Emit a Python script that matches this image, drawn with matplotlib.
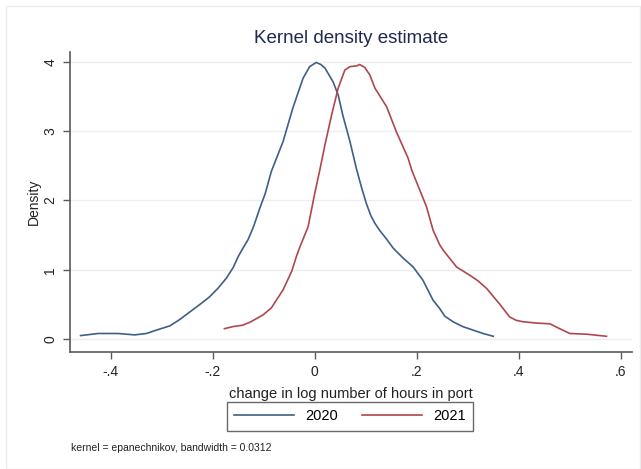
import matplotlib
matplotlib.use("Agg")
import matplotlib.pyplot as plt
from matplotlib.patches import Rectangle

# ---------------------------------------------------------------------------
# Data (x = change in log hours, y = density)
# ---------------------------------------------------------------------------

x_2020 = [-0.459, -0.425, -0.385, -0.353, -0.330, -0.310, -0.284, -0.265,
          -0.245, -0.225, -0.206, -0.190, -0.173, -0.160, -0.150, -0.140,
          -0.131, -0.120, -0.108, -0.097, -0.085, -0.062, -0.043, -0.023,
          -0.010, 0.003, 0.012, 0.020, 0.036, 0.046, 0.055, 0.069, 0.082,
          0.092, 0.101, 0.110, 0.118, 0.127, 0.141, 0.154, 0.173, 0.193,
          0.212, 0.232, 0.245, 0.255, 0.271, 0.290, 0.310, 0.330, 0.350]
y_2020 = [0.05, 0.08, 0.08, 0.06, 0.08, 0.13, 0.19, 0.28,
          0.39, 0.50, 0.61, 0.73, 0.88, 1.03, 1.19, 1.32,
          1.43, 1.62, 1.88, 2.10, 2.42, 2.85, 3.33, 3.76,
          3.93, 3.99, 3.96, 3.91, 3.71, 3.52, 3.23, 2.85, 2.45,
          2.18, 1.96, 1.78, 1.67, 1.57, 1.44, 1.31, 1.17, 1.04,
          0.85, 0.56, 0.44, 0.33, 0.25, 0.18, 0.13, 0.08, 0.04]

x_2021 = [-0.177, -0.160, -0.141, -0.125, -0.101, -0.085, -0.062, -0.045,
          -0.036, -0.029, -0.013, 0.000, 0.010, 0.020, 0.033, 0.046,
          0.059, 0.069, 0.082, 0.088, 0.098, 0.108, 0.118, 0.124, 0.141,
          0.160, 0.183, 0.190, 0.219, 0.232, 0.245, 0.252, 0.278, 0.304,
          0.320, 0.337, 0.363, 0.382, 0.395, 0.408, 0.435, 0.461, 0.480,
          0.500, 0.533, 0.572]
y_2021 = [0.15, 0.18, 0.20, 0.25, 0.35, 0.45, 0.71, 0.98,
          1.19, 1.33, 1.62, 2.10, 2.44, 2.80, 3.23, 3.62,
          3.88, 3.93, 3.94, 3.96, 3.92, 3.81, 3.62, 3.55, 3.35,
          2.99, 2.61, 2.44, 1.91, 1.57, 1.36, 1.28, 1.04, 0.92,
          0.84, 0.73, 0.50, 0.32, 0.27, 0.25, 0.23, 0.22, 0.15,
          0.08, 0.07, 0.04]

x_ticks = [-0.4, -0.2, 0.0, 0.2, 0.4, 0.6]
x_ticklabels = ["-.4", "-.2", "0", ".2", ".4", ".6"]
y_ticks = [0, 1, 2, 3, 4]
series_labels = ["2020", "2021"]

BLUE = "#3d5f88"
RED = "#b0464e"
AXIS = "#5a5a5a"
TEXT = "#222222"

plt.rcParams["font.family"] = ["Liberation Sans", "DejaVu Sans"]

fig = plt.figure(figsize=(6.41, 4.69), dpi=100)
fig.patches.append(Rectangle((0.009, 0.0), 0.99, 0.987, transform=fig.transFigure,
                             fill=False, edgecolor="#ececec", linewidth=1.0))
ax = fig.add_axes([0.109, 0.249, 0.877, 0.640])

ax.plot(x_2020, y_2020, color=BLUE, linewidth=1.2, label=series_labels[0])
ax.plot(x_2021, y_2021, color=RED, linewidth=1.2, label=series_labels[1])

ax.set_xlim(-0.48, 0.622)
ax.set_ylim(-0.19, 4.14)
ax.set_xticks(x_ticks)
ax.set_xticklabels(x_ticklabels, fontsize=10)
ax.set_yticks(y_ticks)
ax.set_yticklabels([str(v) for v in y_ticks], fontsize=10, rotation=90, va="center")

ax.grid(axis="y", color="#eeeeee", linewidth=1.0)
ax.set_axisbelow(True)
for side in ("top", "right"):
    ax.spines[side].set_visible(False)
for side in ("left", "bottom"):
    ax.spines[side].set_color(AXIS)
    ax.spines[side].set_linewidth(1.2)
ax.tick_params(colors=AXIS, labelcolor=TEXT, length=5, width=1.0, pad=4)

ax.set_xlabel("change in log number of hours in port", fontsize=10.5, color=TEXT, labelpad=6)
ax.set_ylabel("Density", fontsize=10, color=TEXT, labelpad=2)
fig.text(0.547, 0.918, "Kernel density estimate", fontsize=13.5, color="#1e2a4f",
         ha="center", va="center")

leg = fig.legend(loc="center", bbox_to_anchor=(0.546, 0.112), ncol=2, frameon=True,
                 fancybox=False, fontsize=10.5, handlelength=4.1, columnspacing=1.7,
                 handletextpad=0.75, borderpad=0.5)
leg.get_frame().set_edgecolor("#444444")
leg.get_frame().set_linewidth(1.0)

fig.text(0.111, 0.044, "kernel = epanechnikov, bandwidth = 0.0312", fontsize=7.5,
         color=TEXT, ha="left", va="center")

fig.savefig("out.png", dpi=100)
